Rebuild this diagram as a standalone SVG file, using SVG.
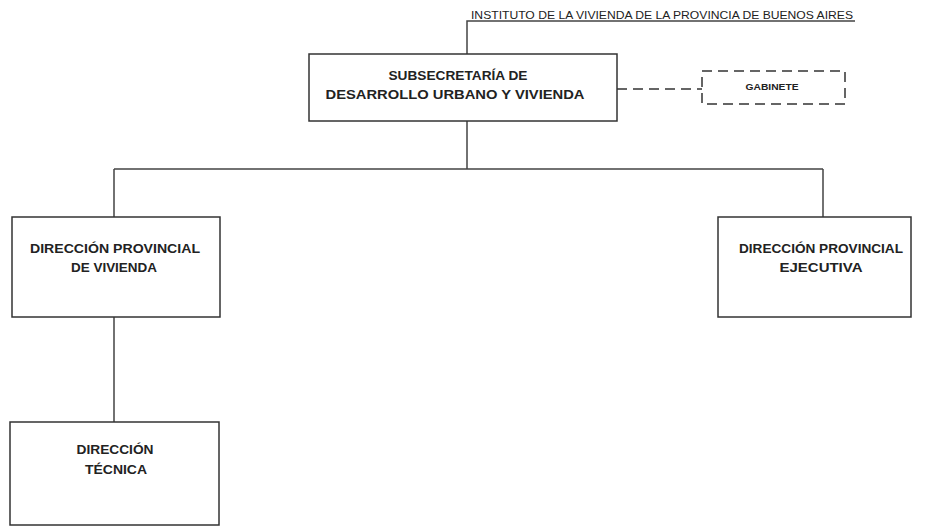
<svg xmlns="http://www.w3.org/2000/svg" width="927" height="527" viewBox="0 0 927 527">
<style>
.box{fill:#fff;stroke:#333;stroke-width:1.5}
.dash{fill:none;stroke:#333;stroke-width:1.5;stroke-dasharray:10,6}
.ln{fill:none;stroke:#444;stroke-width:1.5}
text{font-family:"Liberation Sans",Arial,sans-serif;font-weight:bold;fill:#222;text-anchor:middle}
.t{font-size:13px}
</style>
<rect width="927" height="527" fill="#fff"/>
<g id="connectors">
<path class="ln" d="M467,121 V169 M114,169 H823 M114,169 V217 M823,169 V217 M114,317 V422"/>
<path class="ln" d="M467,54 V21 H855"/>
<path class="dash" d="M617,89 H702"/>
</g>
<g id="instituto">
<text x="662" y="19" style="font-size:11px;font-weight:normal" textLength="382" lengthAdjust="spacingAndGlyphs">INSTITUTO DE LA VIVIENDA DE LA PROVINCIA DE BUENOS AIRES</text>
</g>
<g id="subsecretaria">
<rect class="box" x="309" y="54" width="308" height="67"/>
<text class="t" x="458" y="80" textLength="139" lengthAdjust="spacingAndGlyphs">SUBSECRETARÍA DE</text>
<text class="t" x="455" y="99" textLength="259" lengthAdjust="spacingAndGlyphs">DESARROLLO URBANO Y VIVIENDA</text>
</g>
<g id="gabinete">
<rect class="dash" x="702" y="71" width="143" height="33"/>
<text x="772" y="90" style="font-size:9px" textLength="53" lengthAdjust="spacingAndGlyphs">GABINETE</text>
</g>
<g id="dpv">
<rect class="box" x="12" y="217" width="208" height="100"/>
<text class="t" x="115" y="253" textLength="170" lengthAdjust="spacingAndGlyphs">DIRECCIÓN PROVINCIAL</text>
<text class="t" x="114" y="272" textLength="86" lengthAdjust="spacingAndGlyphs">DE VIVIENDA</text>
</g>
<g id="dpe">
<rect class="box" x="718" y="217" width="193" height="100"/>
<text class="t" x="821" y="253" textLength="164" lengthAdjust="spacingAndGlyphs">DIRECCIÓN PROVINCIAL</text>
<text class="t" x="821" y="272" textLength="83" lengthAdjust="spacingAndGlyphs">EJECUTIVA</text>
</g>
<g id="dt">
<rect class="box" x="10" y="422" width="209" height="103"/>
<text class="t" x="115" y="454" textLength="77" lengthAdjust="spacingAndGlyphs">DIRECCIÓN</text>
<text class="t" x="116" y="474" textLength="62" lengthAdjust="spacingAndGlyphs">TÉCNICA</text>
</g>
</svg>
